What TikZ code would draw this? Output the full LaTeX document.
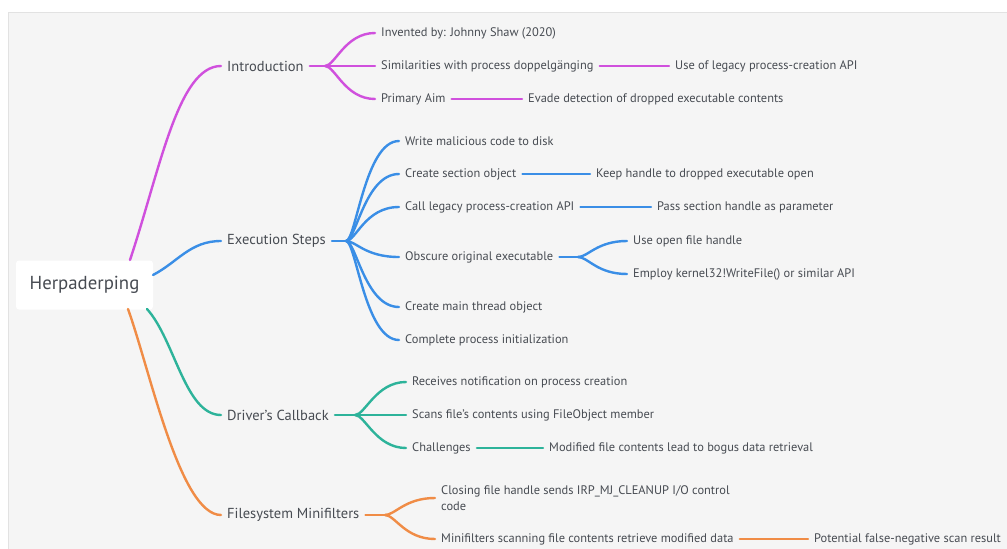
\documentclass[tikz,border=0pt]{standalone}
\usepackage{fontspec}
\setmainfont{PT Sans}
\definecolor{bgc}{HTML}{F5F5F5}
\definecolor{edgec}{HTML}{E2E2E2}
\definecolor{txt}{HTML}{474B52}
\definecolor{cmag}{HTML}{D050DD}
\definecolor{cblue}{HTML}{3A8EE6}
\definecolor{cteal}{HTML}{2DB39A}
\definecolor{corange}{HTML}{F08C46}
\begin{document}
\begin{tikzpicture}[x=1pt,y=-1pt,
  leaf/.style={anchor=west,inner xsep=6pt,inner ysep=2pt,text=txt,font=\fontsize{12.4}{16}\selectfont,align=left},
  main/.style={anchor=west,inner xsep=6pt,inner ysep=2pt,text=txt,font=\fontsize{14.5}{17}\selectfont},
  rootbox/.style={fill=white,rounded corners=3pt,text=txt,font=\fontsize{18.8}{22}\selectfont,minimum width=137pt,minimum height=49pt,inner sep=0pt},
  link/.style={line width=2.4pt,line cap=round}
]
\useasboundingbox (0,0) rectangle (1007,549);
\fill[white] (0,0) rectangle (1007,549);
\fill[bgc] (8,12) rectangle (1007,549);
\draw[edgec,line width=1pt] (8,12.5) -- (1007,12.5);
\draw[edgec,line width=1pt] (8.5,12) -- (8.5,549);

% root
\node[rootbox] (root) at (84.5,285) {Herpaderping};

% main branches
\node[main] (intro) at (221,66) {Introduction};
\node[main] (exec) at (221,241) {Execution Steps};
\node[main] (drv) at (221,415) {Driver's Callback};
\node[main] (fs) at (221,515) {Filesystem Minifilters};

% Introduction leaves
\node[leaf] (inv) at (375,33) {Invented by: Johnny Shaw (2020)};
\node[leaf] (sim) at (375,66) {Similarities with process doppelgänging};
\node[leaf] (use) at (669,66) {Use of legacy process-creation API};
\node[leaf] (aim) at (375,99) {Primary Aim};
\node[leaf] (eva) at (522,99) {Evade detection of dropped executable contents};

% Execution leaves
\node[leaf] (e1) at (399,141) {Write malicious code to disk};
\node[leaf] (e2) at (399,174) {Create section object};
\node[leaf] (e2a) at (590,174) {Keep handle to dropped executable open};
\node[leaf] (e3) at (399,207) {Call legacy process-creation API};
\node[leaf] (e3a) at (651,207) {Pass section handle as parameter};
\node[leaf] (e4) at (399,257) {Obscure original executable};
\node[leaf] (e4a) at (627,241) {Use open file handle};
\node[leaf] (e4b) at (627,274) {Employ kernel32!WriteFile() or similar API};
\node[leaf] (e5) at (399,307) {Create main thread object};
\node[leaf] (e6) at (399,340) {Complete process initialization};

% Driver leaves
\node[leaf] (d1) at (406,382) {Receives notification on process creation};
\node[leaf] (d2) at (406,415) {Scans file's contents using FileObject member};
\node[leaf] (d3) at (406,448) {Challenges};
\node[leaf] (d3a) at (543,448) {Modified file contents lead to bogus data retrieval};

% FS leaves
\node[leaf] (f1) at (435,498) {Closing file handle sends IRP\_MJ\_CLEANUP I/O control\\code};
\node[leaf] (f2) at (435,539) {Minifilters scanning file contents retrieve modified data};
\node[leaf] (f2a) at (808,539) {Potential false-negative scan result};

% branch points
\coordinate (bi) at (325,66);
\coordinate (be) at (346,241);
\coordinate (bo) at (578,257);
\coordinate (bd) at (355,415);
\coordinate (bf) at (385,515);

% root -> main
\draw[link,cmag] (130,260) .. controls (160,170) and (178,66) .. (intro.west);
\draw[link,cblue] (153,275) .. controls (178,262) and (190,241) .. (exec.west);
\draw[link,cteal] (147,309) .. controls (175,340) and (185,415) .. (drv.west);
\draw[link,corange] (128,309) .. controls (150,370) and (180,515) .. (fs.west);

% Introduction
\begin{scope}[link,cmag]
\draw (intro.east) -- (bi);
\draw (bi) .. controls +(10,0) and +(-30,0) .. (inv.west);
\draw (bi) -- (sim.west);
\draw (bi) .. controls +(10,0) and +(-30,0) .. (aim.west);
\draw (sim.east) -- (use.west);
\draw (aim.east) -- (eva.west);
\end{scope}

% Execution
\begin{scope}[link,cblue]
\draw (exec.east) -- (be);
\foreach \n in {e1,e2,e3,e4,e5,e6}
  \draw (be) .. controls +(10,0) and +(-34,0) .. (\n.west);
\draw (e2.east) -- (e2a.west);
\draw (e3.east) -- (e3a.west);
\draw (e4.east) -- (bo);
\draw (bo) .. controls +(10,0) and +(-30,0) .. (e4a.west);
\draw (bo) .. controls +(10,0) and +(-30,0) .. (e4b.west);
\end{scope}

% Driver
\begin{scope}[link,cteal]
\draw (drv.east) -- (bd);
\draw (bd) .. controls +(10,0) and +(-30,0) .. (d1.west);
\draw (bd) -- (d2.west);
\draw (bd) .. controls +(10,0) and +(-30,0) .. (d3.west);
\draw (d3.east) -- (d3a.west);
\end{scope}

% FS
\begin{scope}[link,corange]
\draw (fs.east) -- (bf);
\draw (bf) .. controls +(10,0) and +(-30,0) .. (f1.west);
\draw (bf) .. controls +(10,0) and +(-30,0) .. (f2.west);
\draw (f2.east) -- (f2a.west);
\end{scope}
\end{tikzpicture}
\end{document}
